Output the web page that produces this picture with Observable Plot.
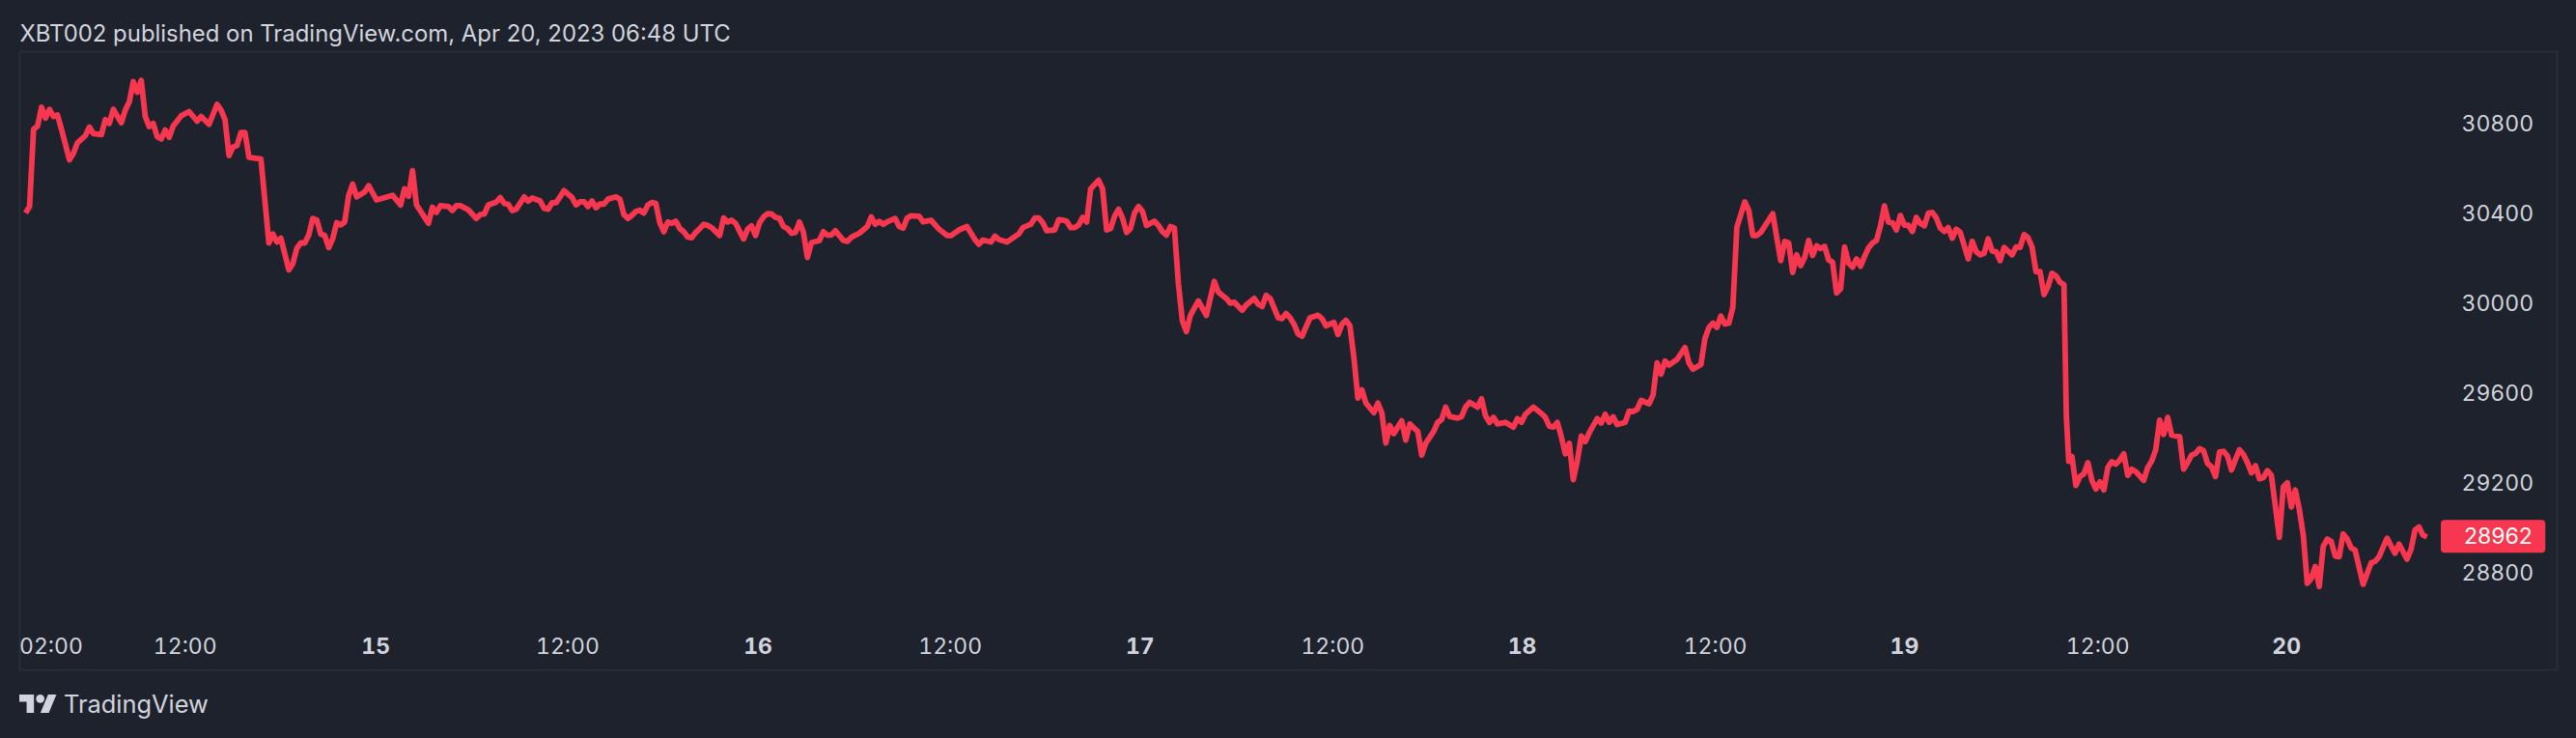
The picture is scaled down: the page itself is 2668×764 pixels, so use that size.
<!DOCTYPE html>
<html>
<head>
<meta charset="utf-8">
<script src="https://cdn.jsdelivr.net/npm/d3@7"></script>
<script src="https://cdn.jsdelivr.net/npm/@observablehq/plot@0.6"></script>
<style>
  html, body { margin: 0; padding: 0; background: #1e222d; width: 2668px; height: 764px; overflow: hidden; }
  body { font-family: Inter, "Noto Sans", sans-serif; color: #d1d4dc; }
  #head { height: 53px; box-sizing: border-box; padding: 21px 0 0 20.5px; font-size: 23.9px; line-height: 28px; white-space: nowrap; }
  #chart svg { display: block; }
  #foot { display: flex; align-items: center; height: 71px; padding: 0 0 0 20px; }
  #foot svg { width: 39px; height: 19.5px; fill: #d1d4dc; margin-right: 7px; }
  #foot span { font-size: 25.4px; font-weight: 400; line-height: 30px; color: #d1d4dc; }
</style>
</head>
<body>
<div id="head">XBT002 published on TradingView.com, Apr 20, 2023 06:48 UTC</div>
<div id="chart"></div>
<div id="foot"><svg viewBox="0 4 36 18"><path d="M14 22H7V11H0V4h14v18zM28 22h-8l7.5-18h8L28 22z"/><circle cx="20" cy="8" r="4"/></svg><span>TradingView</span></div>
<script>
// [15-minute bar since 14 Apr 02:00, close]
const apr14 = [[0,30404],[1,30433],[2,30777],[3,30791],[4,30875],[5,30827],[6,30866],[7,30834],[8,30841],[9,30777],[11,30641],[12,30670],[13,30717],[15,30749],[16,30787],[17,30758],[19,30753],[20,30820],[21,30803],[22,30866],[24,30806],[25,30863],[26,30899],[27,30989],[28,30942],[29,30995],[30,30834],[31,30789],[32,30803],[33,30744],[34,30734],[35,30774],[36,30741],[37,30791],[39,30837],[41,30856],[43,30813],[44,30834],[46,30799],[48,30888],[49,30863],[50,30820],[51,30660],[52,30698],[53,30705],[54,30763],[55,30763],[56,30652],[59,30645],[61,30271],[62,30311],[63,30275],[64,30292],[66,30151],[67,30179],[68,30247],[69,30271],[70,30271],[71,30307],[72,30380],[73,30373],[74,30311],[75,30304],[76,30250],[77,30290],[78,30361],[79,30351],[80,30364],[81,30483],[82,30533],[83,30476]];
const apr15 = [[85,30498],[86,30526],[88,30462],[92,30483],[94,30440],[95,30512],[96,30479],[97,30593],[98,30440],[101,30358],[102,30430],[103,30407],[104,30437],[106,30433],[107,30415],[108,30437],[109,30437],[111,30418],[113,30380],[114,30397],[115,30400],[116,30440],[118,30453],[119,30473],[120,30447],[121,30443],[122,30415],[123,30421],[125,30476],[126,30457],[127,30471],[129,30458],[130,30425],[131,30421],[132,30450],[133,30450],[135,30504],[137,30473],[138,30440],[139,30454],[140,30454],[141,30433],[142,30458],[143,30428],[144,30444],[145,30444],[146,30466],[148,30476],[149,30466],[150,30397],[151,30380],[152,30394],[153,30411],[154,30417],[155,30404],[156,30440],[157,30451],[158,30447],[159,30361],[160,30321],[161,30364],[162,30358],[163,30368],[164,30335],[165,30321],[166,30297],[167,30294],[168,30318],[169,30335],[170,30354]];
const apr16 = [[171,30349],[172,30339],[174,30304],[175,30382],[176,30364],[177,30372],[178,30358],[180,30289],[181,30332],[182,30347],[183,30304],[184,30361],[185,30387],[186,30401],[187,30400],[188,30385],[189,30380],[190,30344],[191,30335],[192,30314],[193,30318],[194,30364],[195,30318],[196,30206],[197,30272],[199,30282],[200,30321],[201,30306],[202,30306],[203,30325],[205,30282],[206,30278],[207,30296],[209,30314],[211,30344],[212,30387],[213,30354],[214,30367],[215,30354],[216,30365],[218,30380],[219,30344],[220,30337],[221,30382],[222,30392],[224,30390],[225,30365],[227,30372],[229,30332],[231,30304],[232,30304],[234,30329],[236,30344],[238,30286],[239,30265],[240,30284],[242,30275],[243,30301],[244,30286],[246,30275],[249,30311],[250,30339],[252,30354],[253,30382],[254,30382],[255,30361],[256,30325]];
const apr17 = [[258,30329],[259,30375],[260,30373],[261,30368],[262,30339],[263,30339],[264,30351],[265,30385],[266,30364],[267,30512],[269,30550],[270,30512],[271,30329],[272,30335],[273,30390],[274,30421],[275,30382],[276,30318],[277,30335],[278,30404],[279,30433],[280,30411],[281,30349],[283,30368],[284,30349],[285,30321],[286,30306],[287,30344],[288,30338],[289,30089],[290,29924],[291,29876],[292,29948],[294,30013],[296,29948],[298,30100],[299,30053],[300,30038],[301,30024],[302,30003],[303,30007],[305,29971],[306,29995],[308,30024],[309,29998],[310,29988],[311,30038],[312,30024],[314,29938],[315,29934],[316,29957],[317,29938],[318,29909],[319,29866],[320,29856],[322,29938],[324,29949],[325,29934],[326,29902],[328,29917],[329,29863],[330,29909],[331,29927],[332,29902],[333,29760],[334,29580]];
const apr18 = [[335,29617],[336,29558],[338,29515],[339,29558],[340,29515],[341,29380],[342,29458],[343,29422],[344,29451],[345,29479],[346,29393],[347,29465],[348,29448],[349,29432],[350,29326],[351,29379],[353,29432],[354,29472],[355,29484],[356,29540],[357,29498],[359,29491],[360,29498],[361,29540],[362,29561],[364,29540],[365,29577],[366,29501],[367,29472],[368,29494],[369,29465],[371,29472],[373,29451],[374,29489],[375,29472],[376,29508],[378,29540],[380,29512],[381,29494],[382,29455],[383,29451],[384,29472],[385,29408],[386,29332],[387,29379],[388,29217],[389,29300],[390,29411],[391,29386],[392,29426],[394,29489],[395,29469],[396,29508],[397,29472],[398,29497],[399,29462],[401,29472],[402,29522],[403,29520],[404,29530],[405,29570],[407,29555],[408,29594],[409,29737],[410,29687],[411,29745],[412,29727],[414,29752],[416,29805],[417,29737],[418,29709],[420,29730],[421,29845],[422,29895],[423,29914],[424,29895],[425,29945],[426,29910],[427,29914],[428,29985]];
const apr19 = [[429,30340],[430,30397],[431,30454],[432,30415],[433,30304],[434,30304],[435,30318],[438,30401],[439,30296],[440,30192],[441,30278],[442,30271],[443,30139],[444,30218],[445,30170],[446,30206],[447,30282],[448,30215],[449,30258],[450,30246],[451,30256],[452,30196],[453,30185],[454,30048],[455,30067],[456,30253],[457,30182],[458,30163],[459,30200],[460,30167],[461,30210],[462,30249],[463,30271],[464,30282],[465,30347],[466,30436],[467,30364],[468,30361],[469,30329],[470,30393],[471,30350],[472,30350],[473,30322],[474,30385],[475,30358],[476,30347],[477,30404],[478,30407],[479,30383],[480,30337],[481,30322],[482,30339],[483,30292],[484,30332],[485,30318],[487,30200],[488,30278],[489,30232],[490,30218],[491,30225],[492,30289],[493,30235],[494,30232],[495,30192],[496,30251],[498,30218],[499,30253],[500,30251],[501,30308],[502,30294],[503,30253],[504,30143],[505,30143],[506,30041],[507,30077],[508,30136],[509,30124],[510,30096],[511,30085],[511.6,29501],[512.2,29299],[513,29320],[514,29191]];
const apr19b = [[515,29231],[516,29243],[517,29293],[518,29214],[519,29175],[520,29207],[521,29171],[522,29271],[523,29297],[524,29286],[525,29304],[526,29332],[527,29236],[528,29263],[529,29253],[531,29214],[532,29271],[533,29300],[534,29350],[535,29482],[536,29418],[537,29494],[538,29415],[540,29408],[541,29264],[542,29293],[543,29326],[544,29334],[545,29355],[546,29346],[547,29289],[548,29274],[549,29231],[550,29340],[551,29343],[552,29322],[553,29260],[554,29307],[555,29350],[556,29329],[557,29293],[558,29247],[559,29279],[560,29221],[561,29226],[562,29257],[563,29236],[565,28960],[566,29185],[567,29203],[568,29095],[569,29171],[570,29085],[571,28970],[572,28755],[573,28777],[574,28830],[575,28741],[576,28920],[577,28952],[578,28942],[579,28877],[580,28874],[581,28975],[582,28953],[583,28913],[584,28903],[586,28751],[588,28846],[589,28853],[590,28874],[592,28956],[594,28889],[595,28930],[597,28863],[598,28906],[599,28992],[600,29006],[601,28970],[602,28962]];
const series = [...apr14, ...apr15, ...apr16, ...apr17, ...apr18, ...apr19, ...apr19b];

const lastClose = 28962;
const priceTicks = [28800, 29200, 29600, 30000, 30400, 30800];
const hourTickBars = [6.4, 40.0, 135.9, 231.8, 327.7, 423.6, 519.5];
const hourTickLabels = ["02:00", "12:00", "12:00", "12:00", "12:00", "12:00", "12:00"];
const dayTickBars = [87.8, 183.6, 279.4, 375.2, 471.0, 566.8];
const dayTickLabels = ["15", "16", "17", "18", "19", "20"];

const textColor = "#d1d4dc";
const lineColor = "#f7374f";
const borderColor = "#2a2e39";

const chart = Plot.plot({
  width: 2668, height: 640,
  marginLeft: 20, marginRight: 140, marginTop: 0, marginBottom: 53,
  style: { background: "transparent", fontFamily: "Inter, sans-serif", color: textColor, overflow: "visible" },
  x: { type: "linear", domain: [-1.45, 605.6] },
  y: { domain: [28597.8, 31122.6] },
  marks: [
    Plot.frame({ stroke: borderColor, strokeWidth: 1.7, insetBottom: -53, insetRight: -120 }),
    Plot.line(series, { x: d => d[0], y: d => d[1], stroke: lineColor, strokeWidth: 5.8, strokeLinejoin: "round", strokeLinecap: "butt" }),
    Plot.axisY(priceTicks, { anchor: "right", label: null, tickSize: 0, tickPadding: 21, fontSize: 23, fill: textColor, tickFormat: d => String(d) }),
    Plot.rect([lastClose], { x1: 605.6, x2: 631.8, y1: d => d - 73, y2: d => d + 73, fill: lineColor, rx: 4 }),
    Plot.text([lastClose], { x: 631.8, y: d => d, text: d => String(d), textAnchor: "end", dx: -14, fill: "#ffffff", fontSize: 23 }),
    Plot.axisX(hourTickBars, { anchor: "bottom", label: null, tickSize: 0, tickPadding: 20, fontSize: 23, fill: textColor, textAnchor: "middle", tickFormat: d => hourTickLabels[hourTickBars.indexOf(d)] }),
    Plot.axisX(dayTickBars, { anchor: "bottom", label: null, tickSize: 0, tickPadding: 20, fontSize: 23, fontWeight: "bold", fill: textColor, textAnchor: "middle", tickFormat: d => dayTickLabels[dayTickBars.indexOf(d)] })
  ]
});
document.getElementById("chart").append(chart);
</script>
</body>
</html>
